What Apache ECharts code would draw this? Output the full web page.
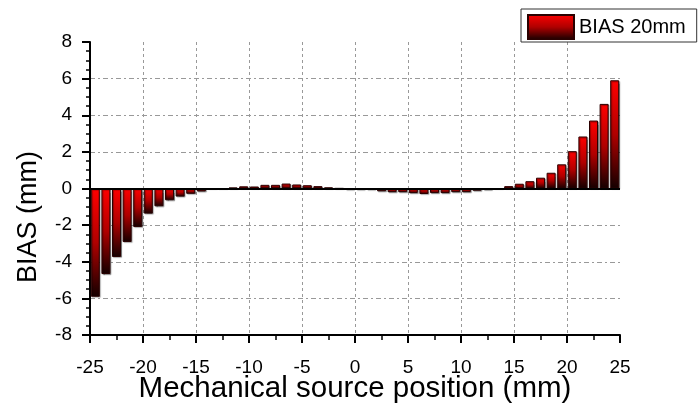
<!DOCTYPE html>
<html>
<head>
<meta charset="utf-8">
<title>BIAS 20mm</title>
<script src="https://cdn.jsdelivr.net/npm/echarts@6/dist/echarts.min.js"></script>
<style>
  html, body { margin: 0; padding: 0; background: #fff; }
  #chart { width: 698px; height: 405px; }
</style>
</head>
<body>
<div id="chart"></div>
<script>
// Mechanical source positions (mm), bar centres
const positions = [
  -24.5, -23.5, -22.5, -21.5, -20.5, -19.5, -18.5, -17.5, -16.5, -15.5,
  -14.5, -13.5, -12.5, -11.5, -10.5, -9.5, -8.5, -7.5, -6.5, -5.5,
  -4.5, -3.5, -2.5, -1.5, -0.5, 0.5, 1.5, 2.5, 3.5, 4.5,
  5.5, 6.5, 7.5, 8.5, 9.5, 10.5, 11.5, 12.5, 13.5, 14.5,
  15.5, 16.5, 17.5, 18.5, 19.5, 20.5, 21.5, 22.5, 23.5, 24.5
];

// Measured bias (mm) at each position
const bias20 = [
  -5.91, -4.67, -3.74, -2.92, -2.10, -1.37, -0.97, -0.64, -0.44, -0.29,
  -0.16, 0.00, 0.00, 0.05, 0.12, 0.11, 0.20, 0.20, 0.27, 0.22,
  0.18, 0.13, 0.06, 0.01, -0.05, -0.05, -0.05, -0.15, -0.20, -0.20,
  -0.25, -0.30, -0.25, -0.25, -0.20, -0.20, -0.12, -0.07, 0.00, 0.13,
  0.26, 0.40, 0.59, 0.86, 1.32, 2.04, 2.84, 3.71, 4.62, 5.91
];

const seriesName = 'BIAS 20mm';
const xTitle = 'Mechanical source position (mm)';
const yTitle = 'BIAS (mm)';

const FONT = '"Liberation Sans", Arial, sans-serif';

const barFill = new echarts.graphic.LinearGradient(0, 0, 0, 1, [
  { offset: 0, color: '#ff0000' },
  { offset: 0.5, color: '#b00000' },
  { offset: 1, color: '#140000' }
]);

const chart = echarts.init(document.getElementById('chart'), null, { renderer: 'canvas' });

chart.setOption({
  animation: false,
  backgroundColor: '#ffffff',
  grid: { left: 90, right: 78, top: 42, bottom: 70, outerBoundsMode: 'none', containLabel: false },
  legend: {
    data: [{ name: seriesName, icon: 'rect' }],
    left: 521,
    top: 9,
    orient: 'vertical',
    itemWidth: 46,
    itemHeight: 24,
    padding: [5, 11, 2, 6],
    borderColor: '#333',
    borderWidth: 1,
    backgroundColor: '#fff',
    textStyle: { fontFamily: FONT, fontSize: 20, color: '#000' }
  },
  graphic: [{
    type: 'text',
    left: 15,
    top: 151,
    rotation: Math.PI / 2,
    style: {
      text: yTitle,
      font: '27px ' + FONT,
      fill: '#000'
    }
  }],
  xAxis: {
    type: 'value',
    min: -25,
    max: 25,
    interval: 5,
    name: xTitle,
    nameLocation: 'middle',
    nameGap: 39,
    nameMoveOverlap: false,
    nameTextStyle: { fontFamily: FONT, fontSize: 29.5, color: '#000' },
    axisLine: { onZero: false, lineStyle: { color: '#000', width: 2 } },
    axisTick: { length: 8, lineStyle: { color: '#000', width: 2 } },
    minorTick: { show: true, splitNumber: 2, length: 5, lineStyle: { color: '#000', width: 1.5 } },
    axisLabel: { margin: 23, fontFamily: FONT, fontSize: 19, color: '#000' },
    splitLine: {
      show: true,
      showMinLine: false,
      showMaxLine: false,
      lineStyle: { color: '#999', type: [3, 3], width: 1 }
    }
  },
  yAxis: {
    type: 'value',
    min: -8,
    max: 8,
    interval: 2,
    axisLine: { onZero: false, lineStyle: { color: '#000', width: 2 } },
    axisTick: { length: 8, lineStyle: { color: '#000', width: 2 } },
    minorTick: { show: true, splitNumber: 4, length: 4, lineStyle: { color: '#000', width: 1.5 } },
    axisLabel: { margin: 18, fontFamily: FONT, fontSize: 19, color: '#000' },
    splitLine: {
      show: true,
      showMinLine: false,
      showMaxLine: false,
      lineStyle: { color: '#999', type: [5, 3, 2, 3], width: 1 }
    }
  },
  series: [{
    name: seriesName,
    type: 'bar',
    barWidth: 9,
    data: positions.map((p, i) => [p, bias20[i]]),
    itemStyle: {
      color: barFill,
      borderColor: '#2a0000',
      borderWidth: 1,
      shadowColor: 'rgba(0,0,0,0.35)',
      shadowBlur: 1,
      shadowOffsetX: 1,
      shadowOffsetY: 1
    },
    markLine: {
      silent: true,
      symbol: 'none',
      label: { show: false },
      lineStyle: { color: '#000', width: 2, type: 'solid' },
      data: [{ yAxis: 0 }]
    }
  }]
});
</script>
</body>
</html>
